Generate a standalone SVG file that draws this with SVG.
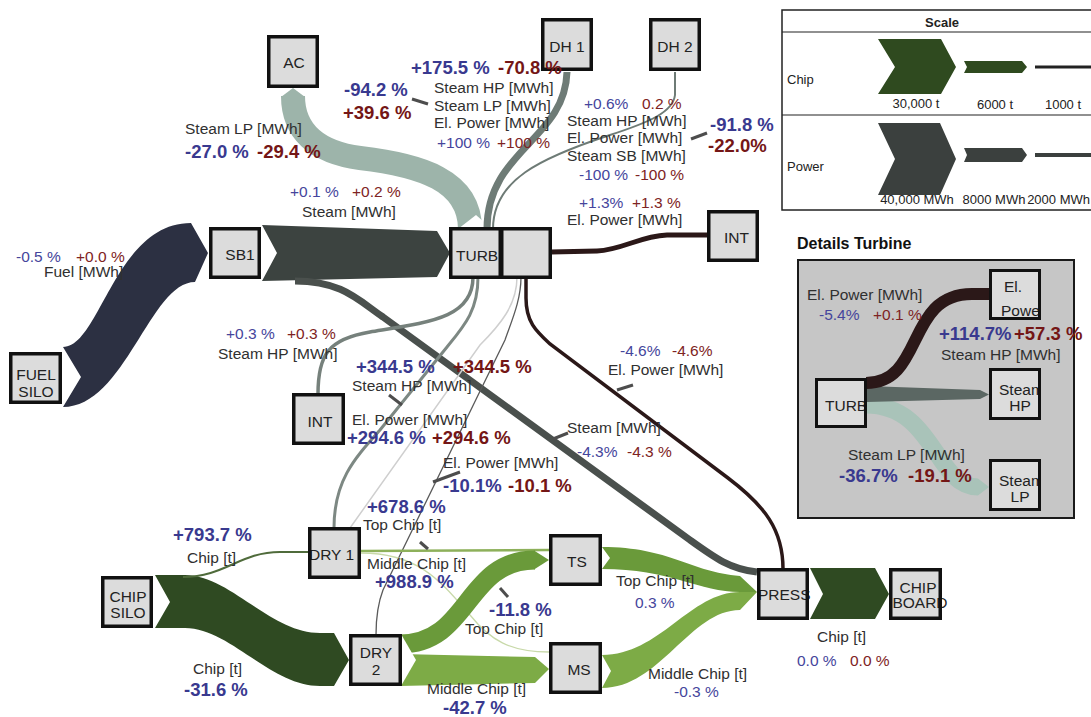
<svg xmlns="http://www.w3.org/2000/svg" width="1091" height="717" viewBox="0 0 1091 717">
<defs>
<style>
text{font-family:"Liberation Sans",Arial,sans-serif}
.t{font-size:15.5px;fill:#303030}
.bl{font-size:15.5px;fill:#45459c}
.rd{font-size:15.5px;fill:#7e2323}
.bg{font-size:18.5px;font-weight:bold}
.bg.bl{fill:#39398f}
.bg.rd{fill:#741616}
.nf{fill:#dcdcdc}
.nb{fill:none;stroke:#111;stroke-width:3.5}
.nt{font-size:15.5px;fill:#222}
.lead{stroke:#4d4d4d;stroke-width:3;fill:none}
.sc{font-size:13px;fill:#222}
.ln{fill:none}
</style>
<clipPath id="clipEl"><rect x="989" y="269" width="51" height="51"/></clipPath>
<clipPath id="clipHP"><rect x="989" y="368" width="51" height="52"/></clipPath>
<clipPath id="clipLP"><rect x="989" y="459" width="51" height="52"/></clipPath>
</defs>
<rect width="1091" height="717" fill="#fff"/>

<!-- flows of the plant -->
<g id="connectors">
  <!-- fuel: FUEL SILO to SB1 -->
  <path d="M63,347 C100,347 115,223 191,223 L208,253 L195,282 C150,282 125,407 63,407 L81,377 Z" fill="#2c3042"/>
  <!-- steam: SB1 to TURB -->
  <path d="M262,225 L437,231 L450,253 L437,277 L262,281 L277,253 Z" fill="#3c4340"/>
  <!-- steam: SB1 to PRESS -->
  <path class="ln" d="M295,281 C342,281 358,300 383,317 L690,540 C715,558 730,569 757,572" stroke="#4a504d" stroke-width="7"/>
  <!-- steam LP: TURB to AC -->
  <path class="ln" d="M470,229 C470,180 420,165 360,158 C315,152 293,130 293,96" stroke="#9db4aa" stroke-width="24"/>
  <polygon points="281,97 293,88 305,97" fill="#9db4aa"/>
  <polygon points="458,229 476,215 492,229" fill="#fff"/>
  <!-- TURB to DH 1 -->
  <path class="ln" d="M567,72 C565,140 487,150 487,229" stroke="#6e7b76" stroke-width="7"/>
  <!-- TURB to DH 2 -->
  <path class="ln" d="M675,72 L675,95 C673,112 650,122 610,135 C540,158 493,180 493,229" stroke="#6e7b76" stroke-width="2"/>
  <!-- el. power: TURB to INT -->
  <path class="ln" d="M551,252 L597,251 C622,250 640,236 667,235 L708,235" stroke="#2b1818" stroke-width="5"/>
  <!-- steam HP: TURB to INT -->
  <path class="ln" d="M473,277 C473,318 430,322 370,332 C328,339 318,355 318,394" stroke="#76817c" stroke-width="3.5"/>
  <!-- steam HP: TURB to DRY 1 -->
  <path class="ln" d="M478,277 C478,310 465,325 447,347 L380,430 C355,458 334,480 334,528" stroke="#7d8883" stroke-width="3"/>
  <!-- el. power: TURB to DRY 1 -->
  <path class="ln" d="M517,277 C517,305 500,325 480,345 L350,528" stroke="#cfcfcf" stroke-width="1.5"/>
  <!-- el. power: TURB to DRY 2 -->
  <path class="ln" d="M521,277 C521,300 512,320 505,340 L383,590 C378,603 376,615 376,635" stroke="#5a5a5a" stroke-width="1.3"/>
  <!-- el. power: TURB to PRESS -->
  <path class="ln" d="M526,277 L526,298 C526,322 536,331 550,344 L728,478 C765,506 783,530 783,569" stroke="#2b1818" stroke-width="3.5"/>
  <!-- chip: CHIP SILO to DRY 2 -->
  <path d="M155,575 L185,575 C230,575 270,633 320,633 L334,633 L349,660 L334,686 L320,686 C270,686 230,628 185,628 L155,628 L170,602 Z" fill="#2f4a22"/>
  <!-- chip: CHIP SILO to DRY 1 -->
  <path class="ln" d="M183,577 C225,577 240,552 280,552 L309,552" stroke="#4f6b3b" stroke-width="2"/>
  <!-- top chip: DRY 1 to TS -->
  <path class="ln" d="M361,551 L549,550" stroke="#8db05a" stroke-width="2.5"/>
  <!-- middle chip: DRY 1 to MS -->
  <path class="ln" d="M361,553 C420,553 442,583 470,615 C490,640 510,652 549,652" stroke="#c8d9a9" stroke-width="1.3"/>
  <!-- top chip: DRY 2 to TS -->
  <path class="ln" d="M400,644 C470,644 465,560 535,560" stroke="#6a9a3a" stroke-width="19"/>
  <polygon points="534,550.5 549,560 534,569.5" fill="#6a9a3a"/>
  <!-- middle chip: DRY 2 to MS -->
  <path d="M400,654 L535,657 L549,669 L535,683 L400,686 Z" fill="#7dab46"/>
  <polygon points="401,634 416,660 401,686" fill="#fff"/>
  <!-- top chip: TS to PRESS -->
  <path d="M602,547 C670,547 690,572 740,576 L757,592 L740,592 C700,592 670,569 602,569 L610,558 Z" fill="#6a9a3a"/>
  <!-- middle chip: MS to PRESS -->
  <path d="M602,655 C660,655 690,592 740,592 L757,592 L740,610 C690,610 660,688 602,688 L611,671 Z" fill="#7dab46"/>
  <!-- chip: PRESS to CHIP BOARD -->
  <path d="M810,568 L875,568 L889,594 L875,619 L810,619 L823,594 Z" fill="#2f4a22"/>
</g>

<!-- nodes -->
<g id="node-ac"><rect class="nf" x="268.75" y="36.75" width="48.5" height="49.5"/><text class="nt" x="294" y="68" text-anchor="middle">AC</text><rect class="nb" x="268.75" y="36.75" width="48.5" height="49.5"/></g>
<g id="node-dh1"><rect class="nf" x="542.75" y="19.75" width="48.5" height="49.5"/><text class="nt" x="567" y="52" text-anchor="middle">DH 1</text><rect class="nb" x="542.75" y="19.75" width="48.5" height="49.5"/></g>
<g id="node-dh2"><rect class="nf" x="650.75" y="19.75" width="48.5" height="49.5"/><text class="nt" x="675" y="52" text-anchor="middle">DH 2</text><rect class="nb" x="650.75" y="19.75" width="48.5" height="49.5"/></g>
<g id="node-sb1"><rect class="nf" x="210.75" y="228.75" width="48.5" height="48.5"/><text class="nt" x="240" y="260" text-anchor="middle">SB1</text><rect class="nb" x="210.75" y="228.75" width="48.5" height="48.5"/></g>
<g id="node-turb"><rect class="nf" x="450.75" y="228.75" width="49.5" height="48.5"/><text class="nt" x="456" y="261" font-size="16">TURB</text><rect class="nb" x="450.75" y="228.75" width="49.5" height="48.5"/></g>
<g id="node-turb-gen"><rect class="nf" x="501.75" y="228.75" width="48.5" height="48.5"/><rect class="nb" x="501.75" y="228.75" width="48.5" height="48.5"/></g>
<g id="node-int-grid"><rect class="nf" x="708.75" y="211.75" width="48.5" height="48.5"/><text class="nt" x="724" y="243">INT</text><rect class="nb" x="708.75" y="211.75" width="48.5" height="48.5"/></g>
<g id="node-fuel-silo"><rect class="nf" x="10.75" y="353.75" width="49.5" height="48.5"/><text class="nt" x="36" y="380" text-anchor="middle">FUEL</text><text class="nt" x="36" y="397" text-anchor="middle">SILO</text><rect class="nb" x="10.75" y="353.75" width="49.5" height="48.5"/></g>
<g id="node-int"><rect class="nf" x="293.75" y="394.75" width="49.5" height="48.5"/><text class="nt" x="320" y="427" text-anchor="middle">INT</text><rect class="nb" x="293.75" y="394.75" width="49.5" height="48.5"/></g>
<g id="node-dry1"><rect class="nf" x="309.75" y="528.75" width="49.5" height="48.5"/><text class="nt" x="309" y="560">DRY 1</text><rect class="nb" x="309.75" y="528.75" width="49.5" height="48.5"/></g>
<g id="node-chip-silo"><rect class="nf" x="102.75" y="577.75" width="48.5" height="48.5"/><text class="nt" x="128" y="602" text-anchor="middle">CHIP</text><text class="nt" x="128" y="618" text-anchor="middle">SILO</text><rect class="nb" x="102.75" y="577.75" width="48.5" height="48.5"/></g>
<g id="node-dry2"><rect class="nf" x="350.75" y="635.75" width="49.5" height="48.5"/><text class="nt" x="376" y="658" text-anchor="middle">DRY</text><text class="nt" x="376" y="675" text-anchor="middle">2</text><rect class="nb" x="350.75" y="635.75" width="49.5" height="48.5"/></g>
<g id="node-ts"><rect class="nf" x="550.75" y="535.75" width="49.5" height="48.5"/><text class="nt" x="577" y="567" text-anchor="middle">TS</text><rect class="nb" x="550.75" y="535.75" width="49.5" height="48.5"/></g>
<g id="node-ms"><rect class="nf" x="550.75" y="643.75" width="49.5" height="48.5"/><text class="nt" x="579" y="675" text-anchor="middle">MS</text><rect class="nb" x="550.75" y="643.75" width="49.5" height="48.5"/></g>
<g id="node-press"><rect class="nf" x="758.75" y="569.75" width="48.5" height="48.5"/><text class="nt" x="758" y="600">PRESS</text><rect class="nb" x="758.75" y="569.75" width="48.5" height="48.5"/></g>
<g id="node-chip-board"><rect class="nf" x="890.75" y="569.75" width="49.5" height="48.5"/><text class="nt" x="918" y="593" text-anchor="middle">CHIP</text><text class="nt" x="920" y="608" text-anchor="middle">BOARD</text><rect class="nb" x="890.75" y="569.75" width="49.5" height="48.5"/></g>

<!-- flow labels -->
<g id="labels">
  <text class="t" x="185" y="134">Steam LP [MWh]</text>
  <text class="bg bl" x="185" y="158">-27.0 %</text>
  <text class="bg rd" x="257" y="158">-29.4 %</text>

  <text class="bg bl" x="344" y="96">-94.2 %</text>
  <text class="bg rd" x="343" y="119">+39.6 %</text>
  <line class="lead" x1="412" y1="99" x2="428" y2="104"/>

  <text class="bg bl" x="411" y="74">+175.5 %</text>
  <text class="bg rd" x="498" y="74">-70.8 %</text>
  <text class="t" x="434" y="93">Steam HP [MWh]</text>
  <text class="t" x="434" y="111">Steam LP [MWh]</text>
  <text class="t" x="434" y="128">El. Power [MWh]</text>
  <text class="bl" x="437" y="148">+100 %</text>
  <text class="rd" x="497" y="148">+100 %</text>

  <text class="bl" x="584" y="109">+0.6%</text>
  <text class="rd" x="642" y="109">0.2 %</text>
  <text class="t" x="567" y="126">Steam HP [MWh]</text>
  <text class="t" x="567" y="143">El. Power [MWh]</text>
  <text class="t" x="567" y="161">Steam SB [MWh]</text>
  <text class="bl" x="579" y="180">-100 %</text>
  <text class="rd" x="635" y="180">-100 %</text>
  <line class="lead" x1="691" y1="139" x2="707" y2="133"/>
  <text class="bg bl" x="710" y="131">-91.8 %</text>
  <text class="bg rd" x="708" y="152">-22.0%</text>

  <text class="bl" x="579" y="208">+1.3%</text>
  <text class="rd" x="632" y="208">+1.3 %</text>
  <text class="t" x="567" y="225">El. Power [MWh]</text>

  <text class="bl" x="290" y="197">+0.1 %</text>
  <text class="rd" x="352" y="197">+0.2 %</text>
  <text class="t" x="302" y="217">Steam [MWh]</text>

  <text class="bl" x="16" y="262">-0.5 %</text>
  <text class="rd" x="76" y="262">+0.0 %</text>
  <text class="t" x="44" y="277">Fuel [MWh]</text>

  <text class="bl" x="226" y="339">+0.3 %</text>
  <text class="rd" x="287" y="339">+0.3 %</text>
  <text class="t" x="218" y="359">Steam HP [MWh]</text>

  <text class="bg bl" x="356" y="373">+344.5 %</text>
  <text class="bg rd" x="453" y="373">+344.5 %</text>
  <text class="t" x="352" y="391">Steam HP [MWh]</text>
  <line class="lead" x1="389" y1="395" x2="402" y2="405"/>
  <text class="t" x="352" y="425">El. Power [MWh]</text>
  <text class="bg bl" x="347" y="444">+294.6 %</text>
  <text class="bg rd" x="432" y="444">+294.6 %</text>
  <text class="t" x="443" y="468">El. Power [MWh]</text>
  <line class="lead" x1="433" y1="482" x2="460" y2="472"/>
  <text class="bg bl" x="443" y="492">-10.1%</text>
  <text class="bg rd" x="508" y="492">-10.1 %</text>

  <text class="bl" x="620" y="356">-4.6%</text>
  <text class="rd" x="672" y="356">-4.6%</text>
  <text class="t" x="608" y="375">El. Power [MWh]</text>
  <line class="lead" x1="617" y1="390" x2="633" y2="385"/>
  <text class="t" x="567" y="433">Steam [MWh]</text>
  <line class="lead" x1="553" y1="439" x2="568" y2="433"/>
  <text class="bl" x="577" y="457">-4.3%</text>
  <text class="rd" x="627" y="457">-4.3 %</text>

  <text class="bg bl" x="367" y="513">+678.6 %</text>
  <text class="t" x="363" y="530">Top Chip [t]</text>
  <line class="lead" x1="420" y1="542" x2="428" y2="549"/>
  <text class="t" x="367" y="569">Middle Chip [t]</text>
  <text class="bg bl" x="375" y="588">+988.9 %</text>

  <text class="bg bl" x="173" y="541">+793.7 %</text>
  <text class="t" x="187" y="563">Chip [t]</text>
  <text class="t" x="193" y="674">Chip [t]</text>
  <text class="bg bl" x="184" y="696">-31.6 %</text>

  <text class="bg bl" x="489" y="616">-11.8 %</text>
  <line class="lead" x1="500" y1="588" x2="508" y2="597"/>
  <text class="t" x="465" y="634">Top Chip [t]</text>
  <text class="t" x="427" y="694">Middle Chip [t]</text>
  <text class="bg bl" x="443" y="714">-42.7 %</text>
  <text class="t" x="616" y="586">Top Chip [t]</text>
  <text class="bl" x="635" y="608">0.3 %</text>
  <text class="t" x="648" y="679">Middle Chip [t]</text>
  <text class="bl" x="674" y="697">-0.3 %</text>
  <text class="t" x="817" y="642">Chip [t]</text>
  <text class="bl" x="797" y="666">0.0 %</text>
  <text class="rd" x="850" y="666">0.0 %</text>
</g>

<!-- scale legend -->
<g id="scale">
  <rect x="782" y="10" width="320" height="200" fill="#fff" stroke="#222" stroke-width="1.5"/>
  <line x1="782" y1="32" x2="1091" y2="32" stroke="#222" stroke-width="1.2"/>
  <line x1="782" y1="115" x2="1091" y2="115" stroke="#222" stroke-width="1.2"/>
  <text class="sc" x="942" y="27" text-anchor="middle" font-weight="bold">Scale</text>
  <text class="sc" x="787" y="84">Chip</text>
  <path d="M878,39 L941,39 L956,67 L941,94 L878,94 L895,67 Z" fill="#2f4a1f"/>
  <path d="M964,61 L1022,61 L1027,67 L1022,73 L964,73 L967,67 Z" fill="#2f4a1f"/>
  <line x1="1035" y1="67" x2="1091" y2="67" stroke="#222" stroke-width="3"/>
  <text class="sc" x="916" y="108" text-anchor="middle">30,000 t</text>
  <text class="sc" x="995" y="109" text-anchor="middle">6000 t</text>
  <text class="sc" x="1063" y="109" text-anchor="middle">1000 t</text>
  <text class="sc" x="787" y="171">Power</text>
  <path d="M878,123 L940,123 L956,159 L940,195 L878,195 L895,159 Z" fill="#3b403e"/>
  <path d="M964,148 L1022,148 L1027,155 L1022,162 L964,162 L967,155 Z" fill="#3b403e"/>
  <line x1="1035" y1="155" x2="1091" y2="155" stroke="#3b403e" stroke-width="4"/>
  <text class="sc" x="917" y="204" text-anchor="middle">40,000 MWh</text>
  <text class="sc" x="994" y="204" text-anchor="middle" font-size="12.5">8000 MWh</text>
  <text class="sc" x="1090" y="204" text-anchor="end" font-size="12.5">2000 MWh</text>
</g>

<!-- turbine detail panel -->
<g id="turbine-details">
  <text x="797" y="249" font-size="16" font-weight="bold" fill="#111">Details Turbine</text>
  <rect x="798" y="260" width="276" height="258" fill="#c6c6c6" stroke="#1a1a1a" stroke-width="2"/>
  <g id="detail-flows">
    <path class="ln" d="M866,405 C935,405 935,487 978,487" stroke="#a9c3b9" stroke-width="17"/>
    <polygon points="978,478.5 989,487 978,495.5" fill="#a9c3b9"/>
    <path d="M867,386 L980,390 L989,394.5 L980,399 L867,402 Z" fill="#5b6763"/>
    <path class="ln" d="M866,383 C925,383 905,294 972,294 L990,294" stroke="#2b1818" stroke-width="12"/>
  </g>
  <g id="detail-turb"><rect class="nf" x="816.5" y="379.5" width="49" height="47"/><text class="nt" x="825" y="411">TURB</text><rect x="816.5" y="379.5" width="49" height="47" fill="none" stroke="#111" stroke-width="3"/></g>
  <g id="detail-el"><rect class="nf" x="990.5" y="270.5" width="49" height="48"/><g clip-path="url(#clipEl)"><text class="nt" x="1013" y="292" text-anchor="middle">El.</text><text class="nt" x="1001" y="316">Power</text></g><rect x="990.5" y="270.5" width="49" height="48" fill="none" stroke="#111" stroke-width="3"/></g>
  <g id="detail-hp"><rect class="nf" x="990.5" y="369.5" width="49" height="49"/><g clip-path="url(#clipHP)"><text class="nt" x="999" y="395">Steam</text><text class="nt" x="1020" y="411" text-anchor="middle">HP</text></g><rect x="990.5" y="369.5" width="49" height="49" fill="none" stroke="#111" stroke-width="3"/></g>
  <g id="detail-lp"><rect class="nf" x="990.5" y="460.5" width="49" height="49"/><g clip-path="url(#clipLP)"><text class="nt" x="999" y="486">Steam</text><text class="nt" x="1020" y="502" text-anchor="middle">LP</text></g><rect x="990.5" y="460.5" width="49" height="49" fill="none" stroke="#111" stroke-width="3"/></g>
  <text class="t" x="807" y="300">El. Power [MWh]</text>
  <text class="bl" x="819" y="320">-5.4%</text>
  <text class="rd" x="873" y="320">+0.1 %</text>
  <text class="bg bl" x="939" y="340" font-size="18">+114.7%</text>
  <text class="bg rd" x="1014" y="340" font-size="18">+57.3 %</text>
  <text class="t" x="941" y="360">Steam HP [MWh]</text>
  <text class="t" x="848" y="460">Steam LP [MWh]</text>
  <text class="bg bl" x="839" y="482" font-size="18">-36.7%</text>
  <text class="bg rd" x="908" y="482" font-size="18">-19.1 %</text>
</g>
</svg>
